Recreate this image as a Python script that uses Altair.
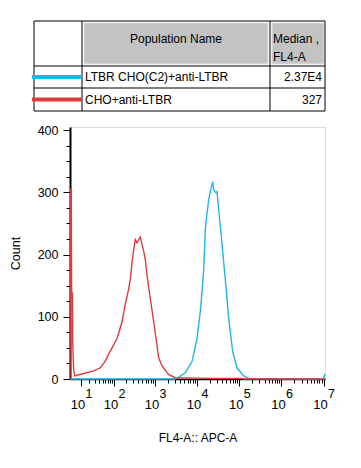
import altair as alt
import pandas as pd

# ---------------- data ----------------
populations = ["LTBR CHO(C2)+anti-LTBR", "CHO+anti-LTBR"]
medians = ["2.37E4", "327"]
pop_colors = ["#1fb6e8", "#e03a3e"]
header_name = "Population Name"
header_median = ["Median ,", "FL4-A"]

# LTBR CHO(C2)+anti-LTBR histogram (FL4-A value, count)
cyan_fl = [2.0, 3000, 3354, 5280, 7612, 10010, 11980, 13150, 14430, 15740, 17200,
           18950, 20200, 21480, 22500, 23560, 24800, 26290, 28000, 29800, 32700,
           37700, 42960, 46860, 56400, 70200, 88840, 128000, 168000, 9500000,
           10200000, 10700000]
cyan_count = [0, 0, 1, 10, 28, 65, 108, 140, 176, 240, 265,
              288, 298, 306, 312, 317, 305, 301, 300, 301, 272,
              229, 187, 161, 97, 44, 18, 5, 1, 0,
              2, 8]

# CHO+anti-LTBR histogram (FL4-A value, count)
red_fl = [2.0, 2.3, 2.7, 2.9, 3.4, 3.6, 4.2, 4.9, 11, 28, 43, 58, 79, 120, 160, 189,
          233, 255, 281, 309, 338, 371, 408, 446, 491, 540, 589, 640, 700, 776,
          935, 1231, 1476, 2130, 3055, 20000, 116600, 130000, 10700000]
red_count = [0, 305, 305, 140, 137, 55, 14, 5, 8, 13, 18, 28, 44, 65, 92, 118,
             145, 160, 187, 208, 224, 219, 224, 228, 216, 205, 192, 170, 150, 129,
             92, 34, 21, 7, 2, 1, 1, 0, 0]

y_major = [0, 100, 200, 300, 400]
y_minor = [25, 50, 75, 125, 150, 175, 225, 250, 275, 325, 350, 375]
x_decades = [10, 100, 1000, 10000, 100000, 1000000, 10000000]
x_base = ["10"] * 7
x_exponents = ["1", "2", "3", "4", "5", "6", "7"]
x_minor = [m * 10 ** k for k in range(1, 7) for m in range(2, 10)]

# ---------------- layout ----------------
W, H = 255, 252
FONT = "Liberation Sans"
CYAN, RED = pop_colors

cyan_df = pd.DataFrame({"fl": cyan_fl, "count": cyan_count})
red_df = pd.DataFrame({"fl": red_fl, "count": red_count})
dec_df = pd.DataFrame({"v": x_decades, "base": x_base, "exp": x_exponents})
one = pd.DataFrame({"k": [0]})

xs = alt.Scale(type="symlog", constant=7.8, domain=[2, 10800000], nice=False, zero=False)
ys = alt.Scale(domain=[0, 405], nice=False, zero=True)

x_major_axis = alt.Axis(values=x_decades, labels=False, tickSize=7, grid=False,
                        title="FL4-A:: APC-A", titlePadding=46, titleFontSize=12,
                        titleFontWeight="normal", titleFont=FONT, titleColor="black",
                        domainColor="black", domainWidth=1.5, tickColor="black",
                        orient="bottom")
x_minor_axis = alt.Axis(values=x_minor, labels=False, tickSize=4, grid=False,
                        domain=False, title=None, tickColor="black", orient="bottom")
y_major_axis = alt.Axis(values=y_major, tickSize=7, labelPadding=5, labelFontSize=12.5,
                        labelFont=FONT, labelColor="black", grid=False,
                        title="Count", titleFontSize=12.5, titleFontWeight="normal",
                        titleFont=FONT, titleColor="black", titlePadding=15,
                        domainColor="black", domainWidth=2, tickColor="black",
                        orient="left")
y_minor_axis = alt.Axis(values=y_minor, labels=False, tickSize=4, grid=False,
                        domain=False, title=None, tickColor="black", orient="left")

cyan_line = alt.Chart(cyan_df).mark_line(color=CYAN, strokeWidth=1.4).encode(
    x=alt.X("fl:Q", scale=xs, axis=x_major_axis),
    y=alt.Y("count:Q", scale=ys, axis=y_major_axis),
    order="fl:Q",
)
red_line = alt.Chart(red_df).mark_line(color=RED, strokeWidth=1.4).encode(
    x=alt.X("fl:Q", scale=xs, axis=x_minor_axis),
    y=alt.Y("count:Q", scale=ys, axis=y_minor_axis),
    order="fl:Q",
)

lab_base = alt.Chart(dec_df).mark_text(font=FONT, fontSize=13, color="black",
                                        baseline="middle", align="center", dx=-3).encode(
    x=alt.X("v:Q", scale=xs, axis=None), y=alt.value(H + 26), text="base:N")
lab_exp = alt.Chart(dec_df).mark_text(font=FONT, fontSize=12.5, color="black",
                                       baseline="middle", align="center", dx=8).encode(
    x=alt.X("v:Q", scale=xs, axis=None), y=alt.value(H + 15), text="exp:N")

# ---------------- table ----------------
L, R, T, B = -36, 255, -106, -16
C1, C2 = 12, 200
R1, R2 = -61, -39


def hrule(x1, x2, y, color="black", w=1.0):
    return alt.Chart(one).mark_rule(color=color, strokeWidth=w).encode(
        x=alt.value(x1), x2=alt.value(x2), y=alt.value(y))


def vrule(x, y1, y2, color="black", w=1.0):
    return alt.Chart(one).mark_rule(color=color, strokeWidth=w).encode(
        x=alt.value(x), y=alt.value(y1), y2=alt.value(y2))


def rect(x1, x2, y1, y2, fill):
    return alt.Chart(one).mark_rect(fill=fill, stroke="#e2e2e2", strokeWidth=1).encode(
        x=alt.value(x1), x2=alt.value(x2), y=alt.value(y1), y2=alt.value(y2))


def text(s, x, y, align="left", size=12):
    return alt.Chart(one).mark_text(font=FONT, fontSize=size, color="black",
                                    align=align, baseline="middle").encode(
        x=alt.value(x), y=alt.value(y), text=alt.value(s))


table = [
    rect(C1 + 2, C2 - 2, T + 2, R1 - 2, "#c3c3c3"),
    rect(C2 + 2, R - 1, T + 2, R1 - 2, "#c3c3c3"),
    hrule(L, R, T), hrule(L, R, R1), hrule(L, R, R2), hrule(L, R, B),
    vrule(L, T, B), vrule(C1, T, B), vrule(C2, T, B), vrule(R, T, B),
    hrule(L - 2, C1, (R1 + R2) / 2, CYAN, 4),
    hrule(L - 2, C1, (R2 + B) / 2, RED, 4),
    text(header_name, (C1 + C2) / 2, -88, align="center"),
    text(header_median[0], C2 + 3, -88),
    text(header_median[1], C2 + 3, -70),
    text(populations[0], C1 + 3, (R1 + R2) / 2),
    text(populations[1], C1 + 3, (R2 + B) / 2),
    text(medians[0], R - 3, (R1 + R2) / 2, align="right"),
    text(medians[1], R - 3, (R2 + B) / 2, align="right"),
]

chart = alt.layer(cyan_line, red_line, lab_base, lab_exp, *table).resolve_axis(
    x="independent", y="independent"
).properties(
    width=W, height=H,
    padding={"left": 1, "top": 12, "right": 2, "bottom": 2},
).configure_view(stroke="black", strokeWidth=1.5).configure(font=FONT)

chart.save("out.html", embed_options={"renderer": "svg", "actions": False})
